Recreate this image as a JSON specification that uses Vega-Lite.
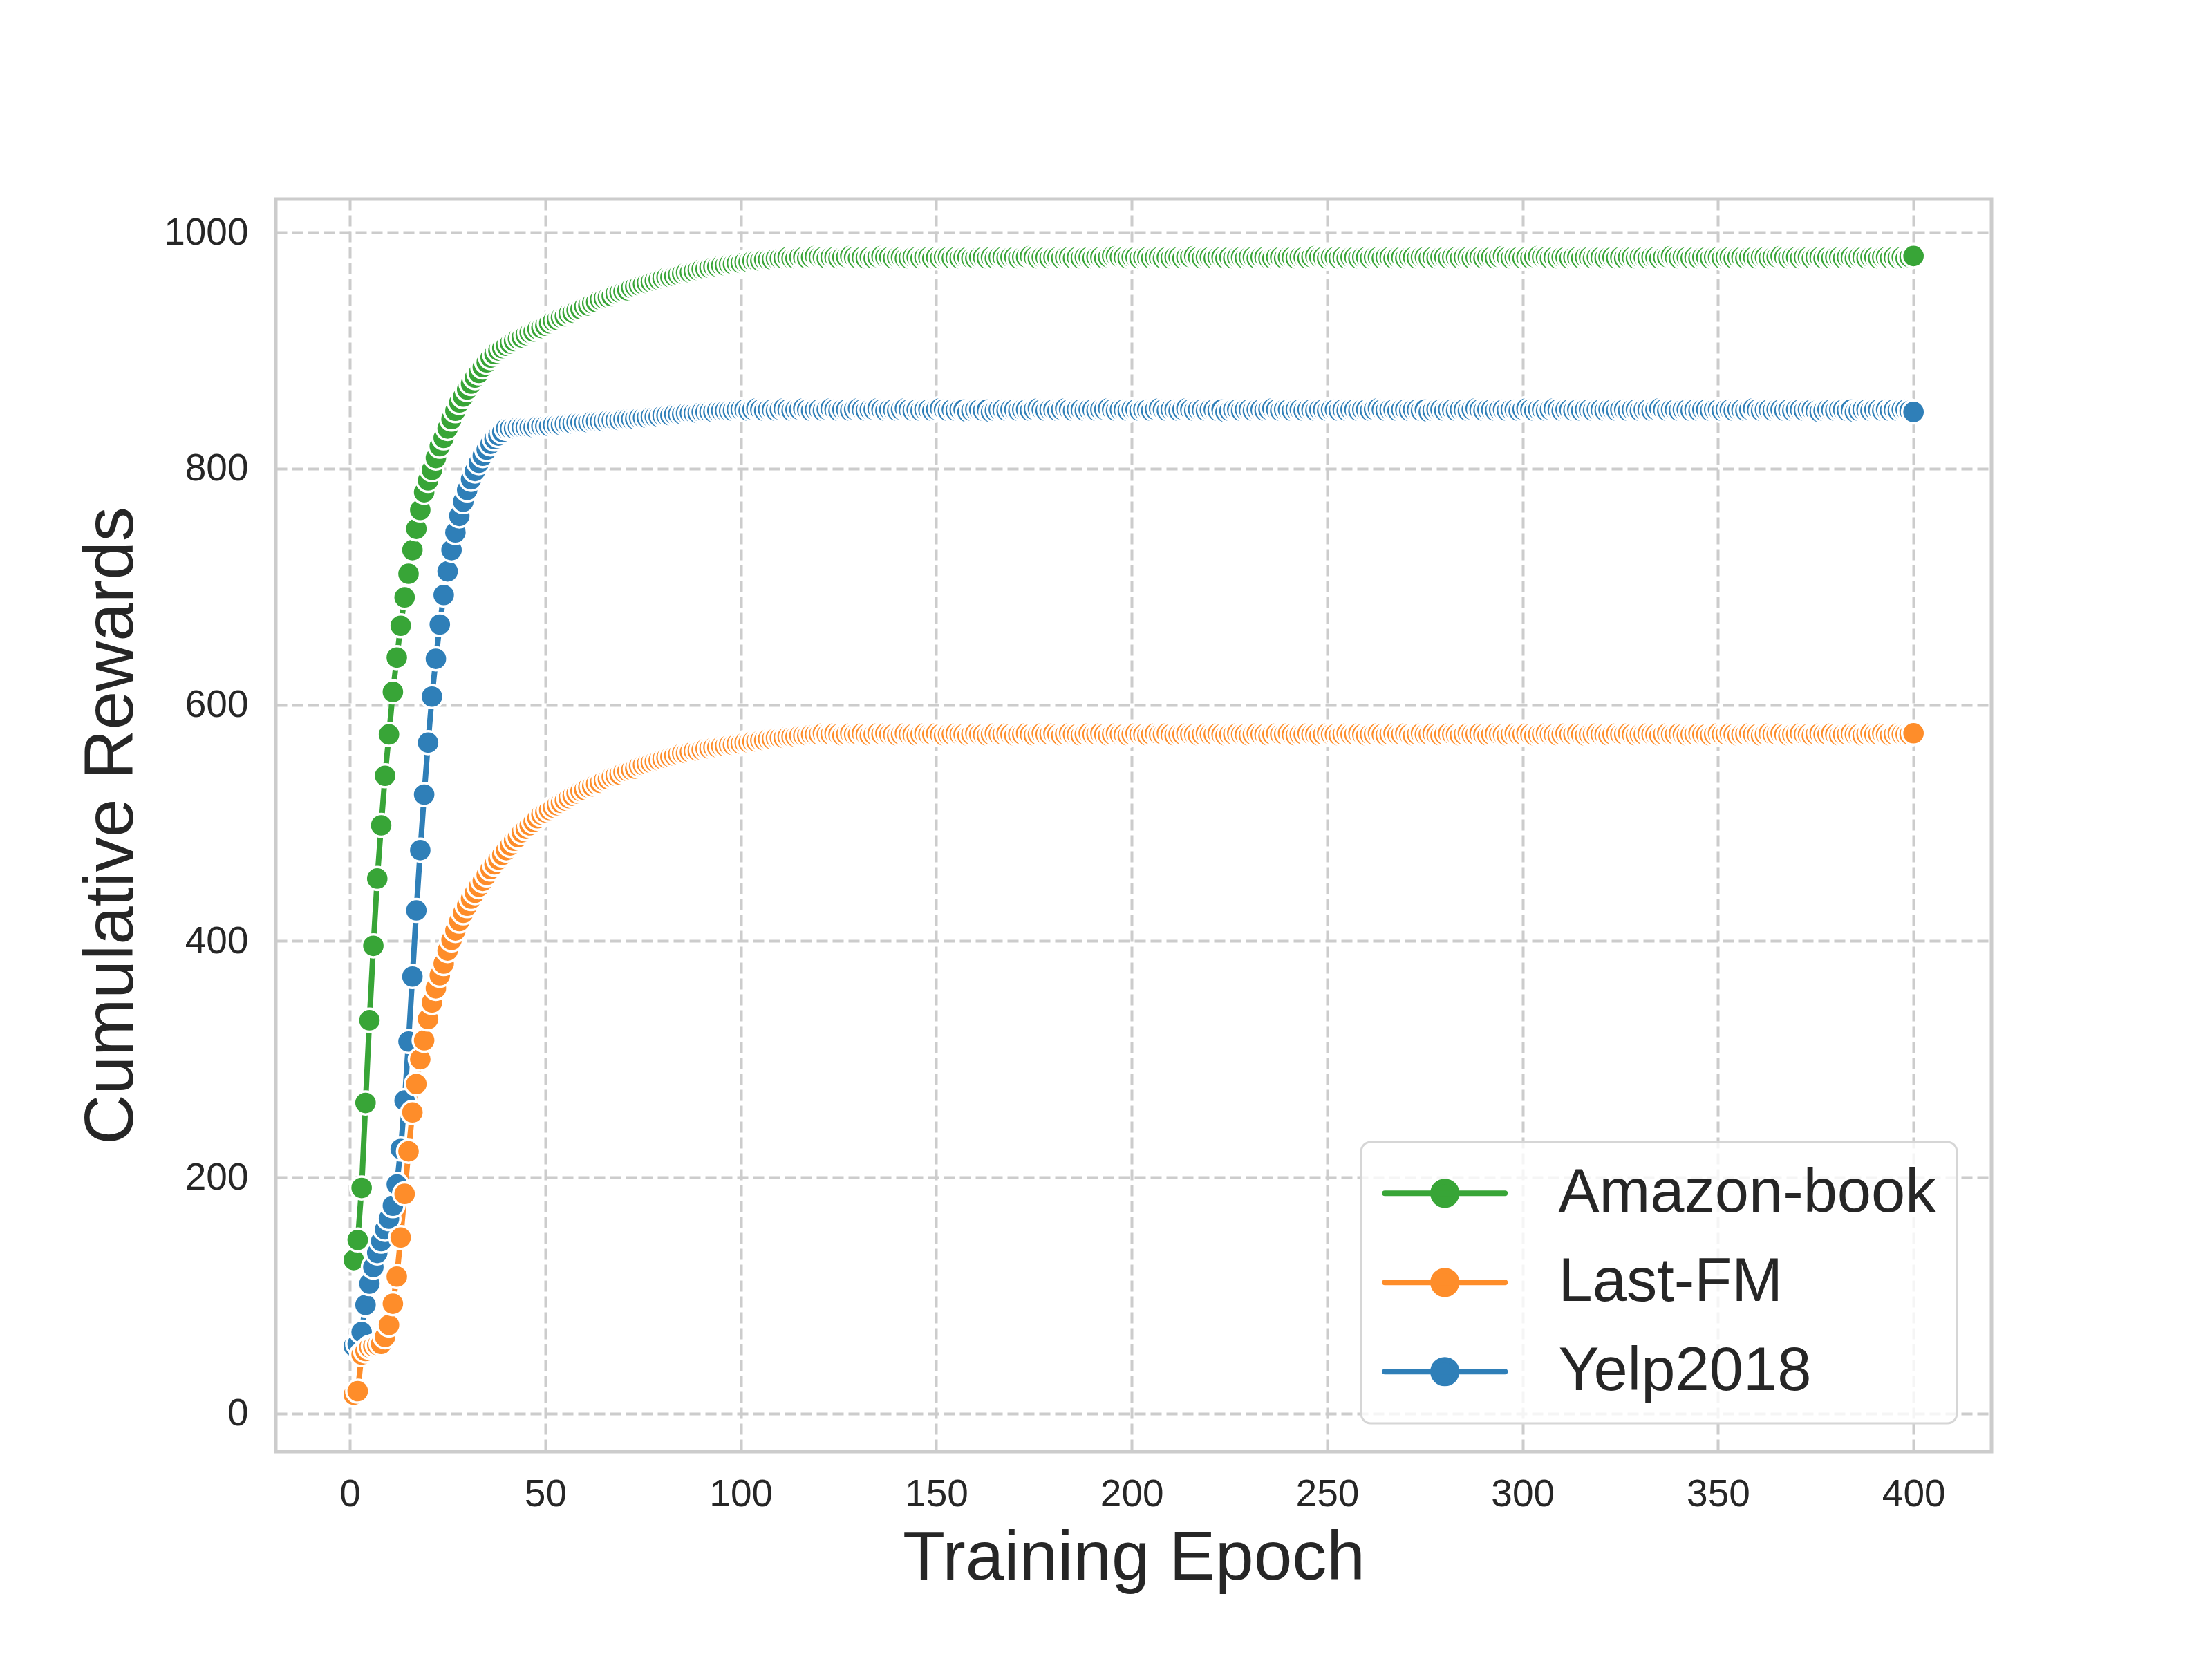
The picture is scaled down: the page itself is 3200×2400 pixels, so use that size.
{
  "$schema": "https://vega.github.io/schema/vega-lite/v6.json",
  "width": 2482,
  "height": 1812,
  "autosize": {"type": "none"},
  "padding": {"left": 399, "top": 288, "right": 319, "bottom": 300},
  "background": "white",
  "config": {
    "font": "Liberation Sans",
    "view": {"stroke": "#cccccc", "strokeWidth": 5},
    "axis": {
      "domain": false, "ticks": false, "tickSize": 0, "grid": true,
      "gridColor": "#cccccc", "gridWidth": 4, "gridDash": [16, 7],
      "labelFont": "Liberation Sans", "labelFontSize": 55, "labelColor": "#262626", "labelFlush": false,
      "titleFont": "Liberation Sans", "titleFontSize": 100, "titleFontWeight": "normal", "titleColor": "#262626"
    }
  },
  "data": {"values": [
{"e":1,"a":130,"l":16,"y":57},{"e":2,"a":147,"l":19,"y":59},{"e":3,"a":191,"l":50,"y":69},{"e":4,"a":263,"l":53,"y":92},{"e":5,"a":333,"l":56,"y":110},
{"e":6,"a":396,"l":57,"y":124},{"e":7,"a":453,"l":58,"y":136},{"e":8,"a":498,"l":59,"y":146},{"e":9,"a":540,"l":65,"y":156},{"e":10,"a":575,"l":75,"y":165},
{"e":11,"a":611,"l":93,"y":176},{"e":12,"a":640,"l":116,"y":194},{"e":13,"a":667,"l":149,"y":224},{"e":14,"a":691,"l":186,"y":265},{"e":15,"a":711,"l":222,"y":315},
{"e":16,"a":731,"l":255,"y":370},{"e":17,"a":749,"l":279,"y":426},{"e":18,"a":765,"l":300,"y":477},{"e":19,"a":780,"l":316,"y":524},{"e":20,"a":790,"l":334,"y":568},
{"e":21,"a":799,"l":348,"y":607},{"e":22,"a":809,"l":360,"y":639},{"e":23,"a":819,"l":371,"y":668},{"e":24,"a":826,"l":381,"y":693},{"e":25,"a":834,"l":392,"y":713},
{"e":26,"a":842,"l":401,"y":731},{"e":27,"a":849,"l":409,"y":746},{"e":28,"a":856,"l":417,"y":760},{"e":29,"a":861,"l":424,"y":772},{"e":30,"a":867,"l":430,"y":782},
{"e":31,"a":872,"l":436,"y":791},{"e":32,"a":877,"l":441,"y":798},{"e":33,"a":881,"l":446,"y":805},{"e":34,"a":886,"l":451,"y":811},{"e":35,"a":890,"l":456,"y":816},
{"e":36,"a":894,"l":461,"y":821},{"e":37,"a":897,"l":465,"y":825},{"e":38,"a":900,"l":469,"y":828},{"e":39,"a":902,"l":473,"y":831},{"e":40,"a":904,"l":477,"y":834},
{"e":41,"a":906,"l":481,"y":834},{"e":42,"a":908,"l":485,"y":834},{"e":43,"a":910,"l":488,"y":835},{"e":44,"a":911,"l":492,"y":835},{"e":45,"a":913,"l":495,"y":835},
{"e":46,"a":915,"l":498,"y":835},{"e":47,"a":916,"l":501,"y":835},{"e":48,"a":918,"l":504,"y":836},{"e":49,"a":919,"l":507,"y":836},{"e":50,"a":921,"l":509,"y":836},
{"e":51,"a":923,"l":511,"y":836},{"e":52,"a":925,"l":513,"y":837},{"e":53,"a":926,"l":515,"y":837},{"e":54,"a":928,"l":517,"y":837},{"e":55,"a":929,"l":519,"y":838},
{"e":56,"a":931,"l":521,"y":838},{"e":57,"a":932,"l":523,"y":838},{"e":58,"a":934,"l":525,"y":839},{"e":59,"a":935,"l":527,"y":839},{"e":60,"a":937,"l":528,"y":839},
{"e":61,"a":938,"l":530,"y":839},{"e":62,"a":940,"l":531,"y":840},{"e":63,"a":941,"l":533,"y":840},{"e":64,"a":943,"l":534,"y":840},{"e":65,"a":944,"l":536,"y":840},
{"e":66,"a":945,"l":537,"y":841},{"e":67,"a":946,"l":539,"y":841},{"e":68,"a":948,"l":540,"y":841},{"e":69,"a":949,"l":541,"y":841},{"e":70,"a":950,"l":543,"y":842},
{"e":71,"a":951,"l":544,"y":842},{"e":72,"a":953,"l":545,"y":842},{"e":73,"a":954,"l":546,"y":842},{"e":74,"a":955,"l":548,"y":843},{"e":75,"a":956,"l":549,"y":843},
{"e":76,"a":957,"l":550,"y":843},{"e":77,"a":958,"l":551,"y":844},{"e":78,"a":959,"l":552,"y":844},{"e":79,"a":960,"l":553,"y":844},{"e":80,"a":961,"l":554,"y":845},
{"e":81,"a":962,"l":555,"y":845},{"e":82,"a":962,"l":556,"y":845},{"e":83,"a":963,"l":557,"y":846},{"e":84,"a":964,"l":558,"y":846},{"e":85,"a":965,"l":559,"y":846},
{"e":86,"a":966,"l":559,"y":847},{"e":87,"a":966,"l":560,"y":847},{"e":88,"a":967,"l":561,"y":847},{"e":89,"a":968,"l":561,"y":847},{"e":90,"a":969,"l":562,"y":848},
{"e":91,"a":969,"l":563,"y":848},{"e":92,"a":970,"l":563,"y":848},{"e":93,"a":971,"l":564,"y":848},{"e":94,"a":971,"l":564,"y":849},{"e":95,"a":972,"l":565,"y":849},
{"e":96,"a":972,"l":565,"y":849},{"e":97,"a":973,"l":566,"y":849},{"e":98,"a":973,"l":566,"y":849},{"e":99,"a":974,"l":567,"y":850},{"e":100,"a":974,"l":567,"y":850},
{"e":101,"a":975,"l":568,"y":850},{"e":102,"a":975,"l":568,"y":849},{"e":103,"a":976,"l":569,"y":850},{"e":104,"a":976,"l":569,"y":851},{"e":105,"a":976,"l":570,"y":850},
{"e":106,"a":977,"l":570,"y":849},{"e":107,"a":977,"l":571,"y":850},{"e":108,"a":977,"l":571,"y":850},{"e":109,"a":978,"l":572,"y":849},{"e":110,"a":978,"l":572,"y":850},
{"e":111,"a":978,"l":572,"y":851},{"e":112,"a":979,"l":573,"y":850},{"e":113,"a":978,"l":573,"y":849},{"e":114,"a":978,"l":573,"y":850},{"e":115,"a":979,"l":574,"y":850},
{"e":116,"a":979,"l":574,"y":851},{"e":117,"a":978,"l":574,"y":850},{"e":118,"a":979,"l":575,"y":849},{"e":119,"a":980,"l":575,"y":850},{"e":120,"a":979,"l":575,"y":850},
{"e":121,"a":979,"l":576,"y":849},{"e":122,"a":978,"l":575,"y":850},{"e":123,"a":979,"l":575,"y":851},{"e":124,"a":979,"l":576,"y":850},{"e":125,"a":978,"l":575,"y":849},
{"e":126,"a":979,"l":574,"y":850},{"e":127,"a":979,"l":575,"y":850},{"e":128,"a":980,"l":576,"y":849},{"e":129,"a":979,"l":575,"y":850},{"e":130,"a":978,"l":575,"y":851},
{"e":131,"a":979,"l":576,"y":850},{"e":132,"a":978,"l":575,"y":849},{"e":133,"a":979,"l":574,"y":850},{"e":134,"a":978,"l":575,"y":850},{"e":135,"a":979,"l":576,"y":851},
{"e":136,"a":980,"l":575,"y":850},{"e":137,"a":979,"l":576,"y":849},{"e":138,"a":979,"l":575,"y":850},{"e":139,"a":978,"l":575,"y":850},{"e":140,"a":979,"l":574,"y":849},
{"e":141,"a":979,"l":575,"y":850},{"e":142,"a":978,"l":576,"y":851},{"e":143,"a":978,"l":575,"y":850},{"e":144,"a":979,"l":575,"y":849},{"e":145,"a":979,"l":574,"y":850},
{"e":146,"a":978,"l":575,"y":849},{"e":147,"a":979,"l":576,"y":850},{"e":148,"a":979,"l":575,"y":850},{"e":149,"a":978,"l":575,"y":849},{"e":150,"a":979,"l":576,"y":850},
{"e":151,"a":978,"l":575,"y":851},{"e":152,"a":979,"l":574,"y":850},{"e":153,"a":979,"l":575,"y":849},{"e":154,"a":978,"l":575,"y":850},{"e":155,"a":979,"l":576,"y":849},
{"e":156,"a":978,"l":575,"y":850},{"e":157,"a":979,"l":575,"y":850},{"e":158,"a":979,"l":574,"y":848},{"e":159,"a":978,"l":575,"y":849},{"e":160,"a":978,"l":576,"y":850},
{"e":161,"a":979,"l":575,"y":850},{"e":162,"a":979,"l":575,"y":849},{"e":163,"a":978,"l":574,"y":850},{"e":164,"a":979,"l":575,"y":848},{"e":165,"a":978,"l":576,"y":849},
{"e":166,"a":979,"l":575,"y":850},{"e":167,"a":979,"l":575,"y":850},{"e":168,"a":978,"l":576,"y":849},{"e":169,"a":979,"l":575,"y":850},{"e":170,"a":979,"l":574,"y":850},
{"e":171,"a":978,"l":575,"y":849},{"e":172,"a":979,"l":575,"y":850},{"e":173,"a":979,"l":576,"y":850},{"e":174,"a":980,"l":575,"y":849},{"e":175,"a":979,"l":574,"y":850},
{"e":176,"a":978,"l":575,"y":851},{"e":177,"a":979,"l":576,"y":850},{"e":178,"a":979,"l":575,"y":849},{"e":179,"a":978,"l":575,"y":850},{"e":180,"a":979,"l":576,"y":850},
{"e":181,"a":979,"l":575,"y":849},{"e":182,"a":978,"l":574,"y":850},{"e":183,"a":979,"l":575,"y":851},{"e":184,"a":979,"l":576,"y":850},{"e":185,"a":978,"l":575,"y":849},
{"e":186,"a":979,"l":575,"y":850},{"e":187,"a":978,"l":574,"y":850},{"e":188,"a":979,"l":575,"y":849},{"e":189,"a":979,"l":576,"y":850},{"e":190,"a":978,"l":575,"y":850},
{"e":191,"a":979,"l":575,"y":849},{"e":192,"a":979,"l":576,"y":850},{"e":193,"a":978,"l":575,"y":850},{"e":194,"a":979,"l":574,"y":851},{"e":195,"a":980,"l":575,"y":850},
{"e":196,"a":980,"l":576,"y":849},{"e":197,"a":979,"l":575,"y":850},{"e":198,"a":979,"l":575,"y":850},{"e":199,"a":978,"l":574,"y":849},{"e":200,"a":979,"l":575,"y":850},
{"e":201,"a":979,"l":576,"y":850},{"e":202,"a":978,"l":575,"y":849},{"e":203,"a":979,"l":575,"y":850},{"e":204,"a":979,"l":574,"y":850},{"e":205,"a":978,"l":575,"y":849},
{"e":206,"a":979,"l":576,"y":850},{"e":207,"a":979,"l":575,"y":851},{"e":208,"a":978,"l":575,"y":850},{"e":209,"a":979,"l":576,"y":849},{"e":210,"a":978,"l":575,"y":850},
{"e":211,"a":979,"l":574,"y":850},{"e":212,"a":979,"l":575,"y":849},{"e":213,"a":978,"l":575,"y":850},{"e":214,"a":979,"l":576,"y":851},{"e":215,"a":979,"l":575,"y":850},
{"e":216,"a":980,"l":575,"y":849},{"e":217,"a":979,"l":574,"y":850},{"e":218,"a":978,"l":575,"y":850},{"e":219,"a":979,"l":576,"y":849},{"e":220,"a":979,"l":575,"y":850},
{"e":221,"a":978,"l":575,"y":850},{"e":222,"a":979,"l":576,"y":849},{"e":223,"a":979,"l":575,"y":850},{"e":224,"a":978,"l":574,"y":848},{"e":225,"a":979,"l":575,"y":849},
{"e":226,"a":978,"l":575,"y":850},{"e":227,"a":979,"l":576,"y":850},{"e":228,"a":979,"l":575,"y":849},{"e":229,"a":978,"l":575,"y":850},{"e":230,"a":979,"l":574,"y":850},
{"e":231,"a":979,"l":575,"y":849},{"e":232,"a":978,"l":576,"y":850},{"e":233,"a":979,"l":575,"y":850},{"e":234,"a":979,"l":575,"y":849},{"e":235,"a":978,"l":574,"y":850},
{"e":236,"a":978,"l":575,"y":851},{"e":237,"a":979,"l":576,"y":850},{"e":238,"a":979,"l":575,"y":849},{"e":239,"a":978,"l":575,"y":850},{"e":240,"a":979,"l":576,"y":850},
{"e":241,"a":979,"l":575,"y":849},{"e":242,"a":978,"l":574,"y":850},{"e":243,"a":979,"l":575,"y":850},{"e":244,"a":979,"l":575,"y":849},{"e":245,"a":978,"l":576,"y":850},
{"e":246,"a":979,"l":575,"y":850},{"e":247,"a":980,"l":575,"y":849},{"e":248,"a":979,"l":574,"y":850},{"e":249,"a":979,"l":575,"y":850},{"e":250,"a":978,"l":576,"y":849},
{"e":251,"a":979,"l":575,"y":850},{"e":252,"a":979,"l":575,"y":850},{"e":253,"a":978,"l":574,"y":849},{"e":254,"a":979,"l":575,"y":850},{"e":255,"a":978,"l":576,"y":849},
{"e":256,"a":979,"l":575,"y":850},{"e":257,"a":979,"l":575,"y":850},{"e":258,"a":978,"l":576,"y":849},{"e":259,"a":979,"l":575,"y":850},{"e":260,"a":979,"l":574,"y":850},
{"e":261,"a":978,"l":575,"y":849},{"e":262,"a":979,"l":575,"y":850},{"e":263,"a":979,"l":576,"y":851},{"e":264,"a":978,"l":575,"y":850},{"e":265,"a":979,"l":574,"y":849},
{"e":266,"a":979,"l":575,"y":850},{"e":267,"a":978,"l":576,"y":850},{"e":268,"a":979,"l":575,"y":849},{"e":269,"a":979,"l":575,"y":850},{"e":270,"a":978,"l":576,"y":850},
{"e":271,"a":979,"l":575,"y":849},{"e":272,"a":979,"l":574,"y":850},{"e":273,"a":978,"l":575,"y":850},{"e":274,"a":979,"l":576,"y":849},{"e":275,"a":979,"l":575,"y":850},
{"e":276,"a":978,"l":575,"y":848},{"e":277,"a":979,"l":576,"y":849},{"e":278,"a":978,"l":575,"y":850},{"e":279,"a":979,"l":574,"y":850},{"e":280,"a":979,"l":575,"y":849},
{"e":281,"a":978,"l":576,"y":850},{"e":282,"a":979,"l":575,"y":850},{"e":283,"a":979,"l":575,"y":849},{"e":284,"a":978,"l":574,"y":850},{"e":285,"a":979,"l":575,"y":850},
{"e":286,"a":979,"l":576,"y":849},{"e":287,"a":978,"l":575,"y":850},{"e":288,"a":979,"l":575,"y":851},{"e":289,"a":979,"l":576,"y":850},{"e":290,"a":978,"l":575,"y":849},
{"e":291,"a":979,"l":574,"y":850},{"e":292,"a":979,"l":575,"y":850},{"e":293,"a":978,"l":576,"y":849},{"e":294,"a":979,"l":575,"y":850},{"e":295,"a":980,"l":575,"y":850},
{"e":296,"a":979,"l":574,"y":849},{"e":297,"a":978,"l":575,"y":850},{"e":298,"a":979,"l":576,"y":850},{"e":299,"a":979,"l":575,"y":849},{"e":300,"a":978,"l":575,"y":850},
{"e":301,"a":979,"l":576,"y":851},{"e":302,"a":978,"l":575,"y":850},{"e":303,"a":979,"l":574,"y":849},{"e":304,"a":980,"l":575,"y":850},{"e":305,"a":979,"l":575,"y":850},
{"e":306,"a":979,"l":576,"y":849},{"e":307,"a":978,"l":575,"y":850},{"e":308,"a":979,"l":575,"y":851},{"e":309,"a":978,"l":574,"y":850},{"e":310,"a":979,"l":575,"y":849},
{"e":311,"a":979,"l":576,"y":850},{"e":312,"a":978,"l":575,"y":850},{"e":313,"a":979,"l":575,"y":849},{"e":314,"a":979,"l":576,"y":850},{"e":315,"a":978,"l":575,"y":849},
{"e":316,"a":979,"l":574,"y":850},{"e":317,"a":979,"l":575,"y":850},{"e":318,"a":978,"l":575,"y":849},{"e":319,"a":979,"l":576,"y":850},{"e":320,"a":979,"l":575,"y":850},
{"e":321,"a":978,"l":575,"y":849},{"e":322,"a":979,"l":574,"y":850},{"e":323,"a":979,"l":575,"y":850},{"e":324,"a":978,"l":576,"y":849},{"e":325,"a":979,"l":575,"y":850},
{"e":326,"a":978,"l":575,"y":850},{"e":327,"a":979,"l":576,"y":849},{"e":328,"a":979,"l":575,"y":850},{"e":329,"a":978,"l":574,"y":850},{"e":330,"a":979,"l":575,"y":849},
{"e":331,"a":979,"l":575,"y":850},{"e":332,"a":978,"l":576,"y":850},{"e":333,"a":979,"l":575,"y":849},{"e":334,"a":979,"l":575,"y":850},{"e":335,"a":978,"l":574,"y":851},
{"e":336,"a":979,"l":575,"y":850},{"e":337,"a":979,"l":576,"y":849},{"e":338,"a":980,"l":575,"y":850},{"e":339,"a":979,"l":575,"y":850},{"e":340,"a":978,"l":576,"y":849},
{"e":341,"a":979,"l":575,"y":850},{"e":342,"a":979,"l":574,"y":850},{"e":343,"a":978,"l":575,"y":849},{"e":344,"a":979,"l":575,"y":850},{"e":345,"a":978,"l":576,"y":849},
{"e":346,"a":979,"l":575,"y":850},{"e":347,"a":979,"l":575,"y":850},{"e":348,"a":978,"l":574,"y":849},{"e":349,"a":979,"l":575,"y":850},{"e":350,"a":979,"l":576,"y":850},
{"e":351,"a":978,"l":575,"y":849},{"e":352,"a":979,"l":575,"y":850},{"e":353,"a":979,"l":576,"y":850},{"e":354,"a":978,"l":575,"y":849},{"e":355,"a":979,"l":574,"y":850},
{"e":356,"a":979,"l":575,"y":850},{"e":357,"a":978,"l":575,"y":849},{"e":358,"a":979,"l":576,"y":850},{"e":359,"a":979,"l":575,"y":851},{"e":360,"a":978,"l":575,"y":850},
{"e":361,"a":979,"l":574,"y":849},{"e":362,"a":979,"l":575,"y":850},{"e":363,"a":978,"l":576,"y":850},{"e":364,"a":979,"l":575,"y":849},{"e":365,"a":979,"l":575,"y":850},
{"e":366,"a":980,"l":576,"y":850},{"e":367,"a":979,"l":575,"y":849},{"e":368,"a":978,"l":574,"y":850},{"e":369,"a":979,"l":575,"y":849},{"e":370,"a":979,"l":575,"y":850},
{"e":371,"a":978,"l":576,"y":850},{"e":372,"a":979,"l":575,"y":849},{"e":373,"a":979,"l":575,"y":850},{"e":374,"a":978,"l":574,"y":850},{"e":375,"a":979,"l":575,"y":849},
{"e":376,"a":979,"l":576,"y":848},{"e":377,"a":978,"l":575,"y":849},{"e":378,"a":979,"l":575,"y":850},{"e":379,"a":978,"l":576,"y":850},{"e":380,"a":979,"l":575,"y":849},
{"e":381,"a":979,"l":574,"y":850},{"e":382,"a":978,"l":575,"y":850},{"e":383,"a":979,"l":575,"y":849},{"e":384,"a":979,"l":576,"y":850},{"e":385,"a":978,"l":575,"y":848},
{"e":386,"a":979,"l":575,"y":849},{"e":387,"a":979,"l":574,"y":850},{"e":388,"a":978,"l":575,"y":850},{"e":389,"a":979,"l":576,"y":849},{"e":390,"a":979,"l":575,"y":850},
{"e":391,"a":978,"l":575,"y":850},{"e":392,"a":979,"l":576,"y":849},{"e":393,"a":979,"l":575,"y":850},{"e":394,"a":978,"l":574,"y":849},{"e":395,"a":979,"l":575,"y":850},
{"e":396,"a":978,"l":576,"y":849},{"e":397,"a":979,"l":575,"y":850},{"e":398,"a":978,"l":575,"y":850},{"e":399,"a":979,"l":575,"y":849},{"e":400,"a":980,"l":576,"y":848}
  ]},
  "transform": [{"fold": ["a", "l", "y"], "as": ["s", "v"]}],
  "encoding": {
    "x": {
      "field": "e", "type": "quantitative",
      "scale": {"domain": [-18.95, 419.95], "nice": false, "zero": false},
      "axis": {"values": [0, 50, 100, 150, 200, 250, 300, 350, 400], "title": "Training Epoch", "labelPadding": 35, "titlePadding": 16}
    },
    "y": {
      "field": "v", "type": "quantitative",
      "scale": {"domain": [-32.2, 1028.2], "nice": false, "zero": false},
      "axis": {"values": [0, 200, 400, 600, 800, 1000], "format": "d", "title": "Cumulative Rewards", "labelPadding": 40, "titlePadding": 24}
    },
    "color": {
      "field": "s", "type": "nominal",
      "scale": {"domain": ["a", "l", "y"], "range": ["#38a537", "#fe8d2a", "#2f7fb8"]},
      "legend": {
        "orient": "none", "legendX": 1570, "legendY": 1364, "title": null, "direction": "vertical",
        "padding": 30, "fillColor": "rgba(255,255,255,0.8)", "strokeColor": "#d6d6d6", "cornerRadius": 14,
        "labelFont": "Liberation Sans", "labelFontSize": 88.5, "labelColor": "#262626", "labelOffset": 167,
        "labelLimit": 2000, "rowPadding": 40,
        "symbolType": "M-2.1,0L7.05,0M3.37,0A0.9,0.9,0,1,1,1.57,0A0.9,0.9,0,1,1,3.37,0Z",
        "symbolSize": 1444, "symbolStrokeWidth": 8,
        "labelExpr": "datum.label == 'a' ? 'Amazon-book' : datum.label == 'l' ? 'Last-FM' : 'Yelp2018'",
        "encode": {
          "legend": {"update": {"strokeWidth": {"value": 3}}},
          "symbols": {"update": {
            "fill": {"scale": "color", "field": "value"},
            "stroke": {"scale": "color", "field": "value"},
            "strokeCap": {"value": "round"},
            "opacity": {"value": 1}
          }}
        }
      }
    }
  },
  "layer": [
    {"mark": {"type": "line", "strokeWidth": 8}},
    {
      "mark": {"type": "point", "filled": true, "shape": "circle", "size": 1100, "stroke": "white", "strokeWidth": 3.5, "opacity": 1},
      "encoding": {"order": [{"field": "s", "type": "ordinal"}, {"field": "e", "type": "quantitative"}]}
    }
  ]
}
